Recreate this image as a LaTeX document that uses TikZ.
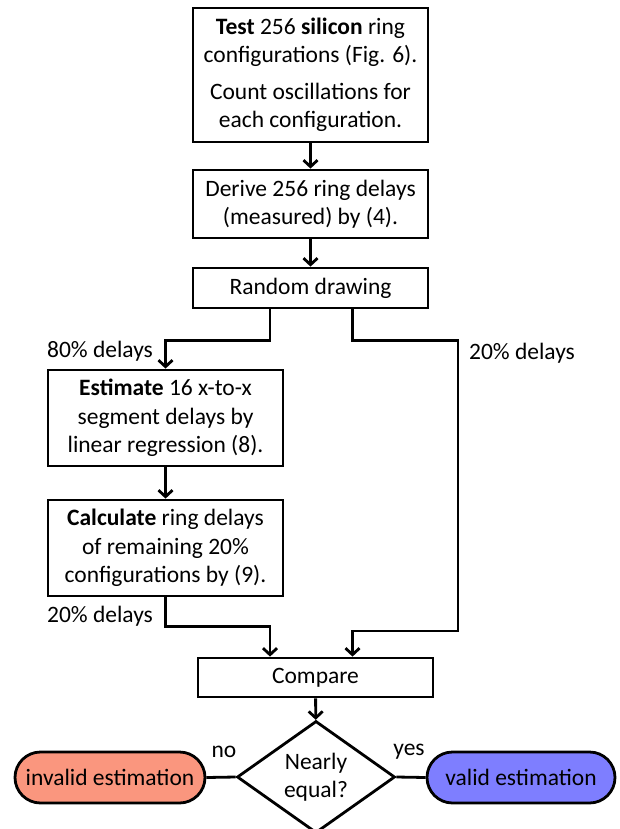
\documentclass[tikz,border=0pt]{standalone}
\usepackage{fontspec}
\setmainfont{Carlito}
\usetikzlibrary{shapes.geometric,shapes.misc,arrows.meta}
\definecolor{salmonfill}{RGB}{250,150,126}
\definecolor{periwfill}{RGB}{126,126,255}
\begin{document}
\begin{tikzpicture}[x=1pt,y=-1pt,
  box/.style={draw,line width=2.8pt,rectangle,align=center,inner sep=0pt,font=\fontsize{23.5}{27.5}\selectfont},
  txt/.style={font=\fontsize{23.5}{27.5}\selectfont,inner sep=0pt,align=center},
  pill/.style={draw,line width=2.8pt,rounded rectangle,inner sep=0pt,font=\fontsize{23.5}{27.5}\selectfont,minimum height=51pt},
  arr/.style={line width=2.8pt,-{Straight Barb[length=6.5pt,width=14pt,line width=2.8pt]}},
  ln/.style={line width=2.8pt}]
\useasboundingbox (0,0) rectangle (619,829);
\node[box,minimum width=235pt,minimum height=134pt] (b1) at (310.5,75)
  {\textbf{Test} 256 \textbf{silicon} ring\\configurations (Fig. 6).\\[10pt]Count oscillations for\\each configuration.};
\node[box,minimum width=235pt,minimum height=68pt] (b2) at (310.5,204)
  {Derive 256 ring delays\\(measured) by (4).};
\node[box,minimum width=235pt,minimum height=40pt] (rd) at (310.5,288) {Random drawing};
\node[box,minimum width=235pt,minimum height=96pt,font=\fontsize{23.5}{28.5}\selectfont] (est) at (165.5,418)
  {\textbf{Estimate} 16 x-to-x\\segment delays by\\linear regression (8).};
\node[box,minimum width=235pt,minimum height=96pt,font=\fontsize{23.5}{28.5}\selectfont] (calc) at (165.5,548)
  {\textbf{Calculate} ring delays\\of remaining 20\%\\configurations by (9).};
\node[box,minimum width=235pt,minimum height=39pt] (cmp) at (315.5,677.5) {Compare};
\node[draw,line width=2.8pt,diamond,minimum width=158pt,minimum height=100pt,inner sep=0pt,align=center,font=\fontsize{23.5}{28}\selectfont] (dia) at (316,777) {Nearly\\equal?};
\node[pill,fill=salmonfill,minimum width=190pt] (inv) at (110,777.5) {invalid estimation};
\node[pill,fill=periwfill,minimum width=188pt] (val) at (521,777.5) {valid estimation};

\node[txt] (l80) at (100,351) {80\% delays};
\node[txt] (r20) at (522,353) {20\% delays};
\node[txt] (l20) at (100,616) {20\% delays};
\node[txt] (no) at (224,752) {no};
\node[txt] (yes) at (409,752) {yes};

\coordinate (rt) at (458,631);

\draw[arr] (b1) -- (b2);
\draw[arr] (b2) -- (rd);
\draw[arr] ([xshift=-40.5pt]rd.south) -- ++(0,31) -| (est.north);
\draw[arr] ([xshift=42pt]rd.south) -- ++(0,31) -| (rt) -| ([xshift=37pt]cmp.north);
\draw[arr] (est) -- (calc);
\draw[arr] (calc.south) -- ++(0,29) -| ([xshift=-45.5pt]cmp.north);
\draw[arr] (cmp) -- (dia);
\draw[ln] (dia.west) -- (inv.east);
\draw[ln] (dia.east) -- (val.west);
\end{tikzpicture}
\end{document}
